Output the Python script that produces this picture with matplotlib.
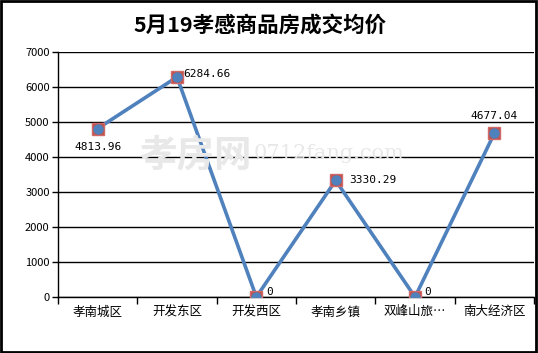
import matplotlib
matplotlib.use('Agg')
import numpy as np
import matplotlib.pyplot as plt
from matplotlib.patches import Rectangle

plt.rcParams['font.family'] = ['Noto Sans CJK SC', 'DejaVu Sans']

title = '5月19孝感商品房成交均价'
categories = ['孝南城区', '开发东区', '开发西区', '孝南乡镇', '双峰山旅…', '南大经济区']
prices = [4813.96, 6284.66, 0, 3330.29, 0, 4677.04]
labels = ['4813.96', '6284.66', '0', '3330.29', '0', '4677.04']
yticks = [0, 1000, 2000, 3000, 4000, 5000, 6000, 7000]

fig = plt.figure(figsize=(5.38, 3.53), dpi=100)
ax = fig.add_axes([0.1078, 0.1586, 0.8848, 0.6941])

x = np.arange(len(categories))
ax.plot(x, prices, color='#4f81bd', lw=2.6, zorder=3)
ax.plot(x, prices, ls='none', marker='s', ms=8.5, mfc='#c0504d',
        mec='#d06a66', zorder=4)
ax.plot(x, prices, ls='none', marker='o', ms=6.5, mfc='#4f81bd',
        mec='#4f81bd', zorder=5)

# data labels
offsets = [(0, -10, 'center', 'top'), (0.08, 2, 'left', 'center'),
           (0.12, 0, 'left', 'bottom'), (0.17, 0, 'left', 'center'),
           (0.12, 0, 'left', 'bottom'), (0, 9, 'center', 'bottom')]
for i, (dx, dy, ha, va) in enumerate(offsets):
    ax.annotate(labels[i], (x[i] + dx, prices[i]), xytext=(0, dy),
                textcoords='offset points', ha=ha, va=va, fontsize=8,
                family='DejaVu Sans Mono', zorder=6)

ax.set_xlim(-0.5, len(categories) - 0.5)
ax.set_ylim(0, 7000)
ax.set_yticks(yticks)
ax.set_yticklabels([str(v) for v in yticks], fontsize=8)
ax.yaxis.grid(True, color='black', lw=1)
ax.set_axisbelow(True)

ax.set_xticks(x)
ax.set_xticklabels(categories, fontsize=9)
ax.set_xticks(np.arange(-0.5, len(categories)), minor=True)
ax.tick_params(axis='x', which='major', length=0, pad=6)
ax.tick_params(axis='x', which='minor', length=5, width=1, color='black')
ax.tick_params(axis='y', length=4, width=1, color='black', pad=2)

for s in ['top', 'right']:
    ax.spines[s].set_visible(False)
for s in ['left', 'bottom']:
    ax.spines[s].set_color('black')
    ax.spines[s].set_linewidth(1)

# watermark
fig.text(0.468, 0.56, '孝房网', fontsize=27, color='#e8e8e8', ha='right',
         va='center', zorder=0, fontweight='bold')
fig.text(0.472, 0.565, '0712fang.com', fontsize=15, color='#e8e8e8', ha='left',
         va='center', zorder=0, family='DejaVu Serif')

fig.text(0.484, 0.928, title, ha='center', va='center', fontsize=15.5,
         fontweight='bold')

fig.patches.append(Rectangle((0.002, 0.003), 0.995, 0.994, fill=False,
                             ec='black', lw=2, transform=fig.transFigure))

fig.savefig('out.png', dpi=100)
